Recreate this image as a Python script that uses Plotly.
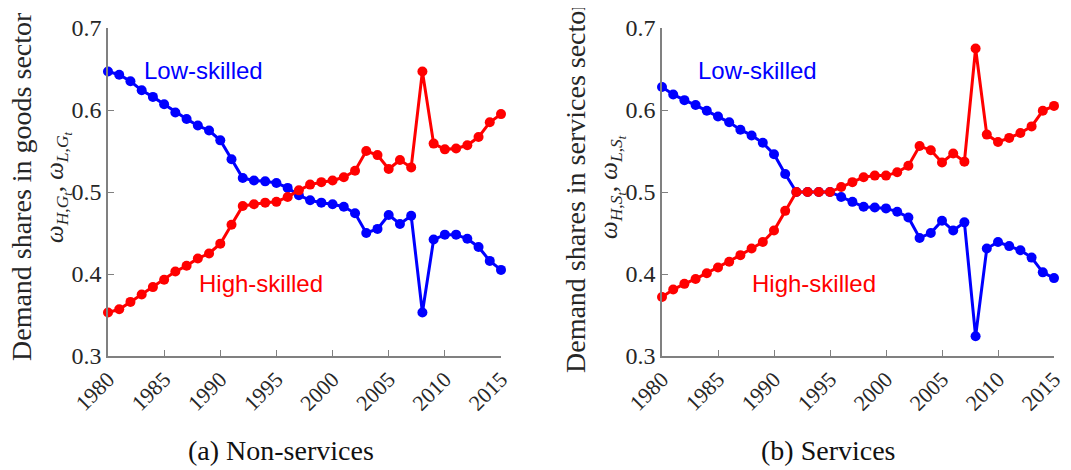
import plotly.graph_objects as go

years = list(range(1980, 2016))

goods_low = [0.647, 0.643, 0.635, 0.624, 0.616, 0.607, 0.597, 0.589, 0.581, 0.575,
             0.563, 0.540, 0.517, 0.514, 0.513, 0.511, 0.505, 0.496, 0.490, 0.487,
             0.485, 0.482, 0.474, 0.450, 0.455, 0.472, 0.461, 0.471, 0.353, 0.442,
             0.448, 0.448, 0.443, 0.433, 0.416, 0.405]
goods_high = [0.353, 0.357, 0.366, 0.375, 0.384, 0.393, 0.403, 0.410, 0.419, 0.425,
              0.437, 0.460, 0.483, 0.485, 0.487, 0.488, 0.494, 0.502, 0.509, 0.512,
              0.514, 0.518, 0.526, 0.550, 0.545, 0.528, 0.539, 0.530, 0.647, 0.559,
              0.552, 0.553, 0.557, 0.567, 0.585, 0.595]
serv_low = [0.628, 0.619, 0.612, 0.606, 0.599, 0.592, 0.585, 0.576, 0.569, 0.560,
            0.546, 0.522, 0.500, 0.500, 0.500, 0.500, 0.494, 0.488, 0.482, 0.481,
            0.480, 0.476, 0.469, 0.444, 0.450, 0.465, 0.453, 0.463, 0.324, 0.431,
            0.439, 0.434, 0.429, 0.420, 0.402, 0.395]
serv_high = [0.372, 0.381, 0.388, 0.394, 0.401, 0.408, 0.415, 0.423, 0.431, 0.439,
             0.453, 0.477, 0.500, 0.500, 0.500, 0.500, 0.506, 0.512, 0.518, 0.520,
             0.520, 0.524, 0.532, 0.556, 0.551, 0.536, 0.547, 0.537, 0.675, 0.570,
             0.561, 0.566, 0.572, 0.580, 0.599, 0.605]

x_ticks = [1980, 1985, 1990, 1995, 2000, 2005, 2010, 2015]
y_ticks = [0.3, 0.4, 0.5, 0.6, 0.7]

BLUE = "#0000FF"
RED = "#FF0000"
AX = "#808080"
TXT = "#262626"
SERIF = "Liberation Serif"
SANS = "Liberation Sans"

# page body adds an 8px offset; figure is sized to fit the 1071x470 window
OFF = 8
W, H = 1071 - OFF, 470 - OFF


def px(xv):
    return (xv - OFF) / W


def py(yv):
    return 1 - (yv - OFF) / H


fig = go.Figure()

panels = [
    ("x", "y", goods_low, goods_high),
    ("x2", "y2", serv_low, serv_high),
]
for xa, ya, low, high in panels:
    for vals, col in ((low, BLUE), (high, RED)):
        fig.add_trace(go.Scatter(
            x=years, y=vals, xaxis=xa, yaxis=ya, mode="lines+markers",
            line=dict(color=col, width=3),
            marker=dict(color=col, size=10),
            cliponaxis=False, showlegend=False, hoverinfo="skip"))

y_dom = [py(356), py(28)]
axis_common = dict(showline=True, linecolor=AX, linewidth=1.5, ticks="inside",
                   ticklen=6, tickwidth=1.3, tickcolor=AX, showgrid=False,
                   zeroline=False, mirror=False, automargin=False)
xcommon = dict(axis_common, range=[1980, 2015], tickvals=x_ticks, tickangle=-45,
               tickfont=dict(family=SERIF, size=22, color=TXT))
ycommon = dict(axis_common, range=[0.3, 0.7], tickvals=y_ticks, tickformat=".1f",
               tickfont=dict(family=SERIF, size=24, color=TXT))

fig.update_layout(
    width=W, height=H, margin=dict(l=0, r=0, t=0, b=0, autoexpand=False),
    plot_bgcolor="white", paper_bgcolor="white",
    xaxis=dict(xcommon, domain=[px(108), px(501)], anchor="y"),
    yaxis=dict(ycommon, domain=y_dom, anchor="x"),
    xaxis2=dict(xcommon, domain=[px(662), px(1054)], anchor="y2"),
    yaxis2=dict(ycommon, domain=y_dom, anchor="x2"),
)

anns = []
# series labels
for xr, yr in (("x", "y"), ("x2", "y2")):
    anns.append(dict(x=1988.5, y=0.6476, xref=xr, yref=yr, text="Low-skilled",
                     showarrow=False, font=dict(family=SANS, size=24, color=BLUE)))
    anns.append(dict(x=1993.6, y=0.389, xref=xr, yref=yr, text="High-skilled",
                     showarrow=False, font=dict(family=SANS, size=24, color=RED)))

# y titles
titles = [
    (21, 58, "Demand shares in goods sector", "G"),
    (575, 612, "Demand shares in services sector", "S"),
]
for x1, x2, t1, s in titles:
    anns.append(dict(x=px(x1), y=py(187), xref="paper", yref="paper", text=t1,
                     textangle=-90, showarrow=False, xanchor="center", yanchor="middle",
                     font=dict(family=SERIF, size=28, color=TXT)))
    t2 = (f"<i>ω</i><sub><i>H</i>,<i>{s}<sub>t</sub></i></sub>, "
          f"<i>ω</i><sub><i>L</i>,<i>{s}<sub>t</sub></i></sub>")
    anns.append(dict(x=px(x2), y=py(187), xref="paper", yref="paper", text=t2,
                     textangle=-90, showarrow=False, xanchor="center", yanchor="middle",
                     font=dict(family=SERIF, size=25, color=TXT)))

# captions
for cx, cap in ((281, "(a) Non-services"), (828, "(b) Services")):
    anns.append(dict(x=px(cx), y=py(450), xref="paper", yref="paper", text=cap,
                     showarrow=False, xanchor="center", yanchor="middle",
                     font=dict(family=SERIF, size=28, color="#111111")))

fig.update_layout(annotations=anns)
fig.write_html("out.html")
